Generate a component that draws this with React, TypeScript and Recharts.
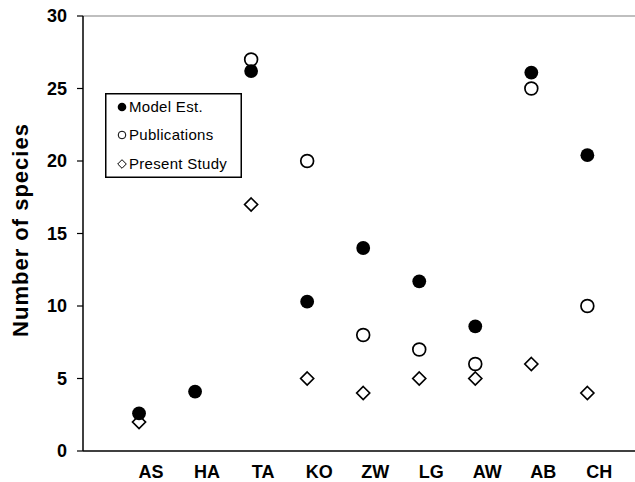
import React from 'react';
import { ScatterChart, Scatter, XAxis, YAxis, ReferenceLine, Legend, Label } from 'recharts';

const categories = ['AS', 'HA', 'TA', 'KO', 'ZW', 'LG', 'AW', 'AB', 'CH'];
const modelEst = [2.6, 4.1, 26.2, 10.3, 14.0, 11.7, 8.6, 26.1, 20.4];
const publications: (number | null)[] = [null, null, 27, 20, 8, 7, 6, 25, 10];
const presentStudy: (number | null)[] = [2, null, 17, 5, 4, 5, 5, 6, 4];
const yTicks = [0, 5, 10, 15, 20, 25, 30];
const xTicks = categories.map((_, i) => i + 1);

const toPoints = (vals: (number | null)[]) =>
  vals
    .map((v, i) => (v === null ? null : { x: i + 1, y: v }))
    .filter((p) => p !== null) as { x: number; y: number }[];

const modelData = toPoints(modelEst);
const pubData = toPoints(publications);
const presentData = toPoints(presentStudy);

const FONT = '"Liberation Sans", Arial, sans-serif';

const FilledCircle = (p: any) => <circle cx={p.cx} cy={p.cy} r={6.9} fill="#000" />;
const OpenCircle = (p: any) => (
  <circle cx={p.cx} cy={p.cy} r={6.4} fill="#fff" stroke="#000" strokeWidth={1.7} />
);
const Diamond = (p: any) => {
  const s = 6.5;
  return (
    <path
      d={`M${p.cx},${p.cy - s} L${p.cx + s},${p.cy} L${p.cx},${p.cy + s} L${p.cx - s},${p.cy} Z`}
      fill="#fff"
      stroke="#000"
      strokeWidth={1.7}
    />
  );
};

const XTick = (props: any) => {
  const { x, payload } = props;
  return (
    <text
      x={x + 12}
      y={478}
      textAnchor="middle"
      fontFamily={FONT}
      fontWeight="bold"
      fontSize={18}
      fill="#000"
    >
      {categories[payload.value - 1]}
    </text>
  );
};

const YLabel = () => {
  const cx = 20;
  const cy = 230;
  return (
    <text
      x={cx}
      y={cy}
      transform={`rotate(-90 ${cx} ${cy})`}
      textAnchor="middle"
      dominantBaseline="central"
      fontFamily={FONT}
      fontWeight="bold"
      fontSize={22}
      letterSpacing={1}
      fill="#000"
    >
      Number of species
    </text>
  );
};

const legendItems = [
  { label: 'Model Est.', kind: 'filled' },
  { label: 'Publications', kind: 'open' },
  { label: 'Present Study', kind: 'diamond' },
];

const LegendBox = () => {
  const rows = [14, 42, 71];
  return (
    <svg width={137} height={85} style={{ display: 'block' }}>
      <rect x={0.75} y={0.75} width={135.5} height={83.5} fill="#fff" stroke="#000" strokeWidth={1.5} />
      {legendItems.map((it, i) => {
        const cy = rows[i];
        const cx = 17;
        let sym;
        if (it.kind === 'filled') sym = <circle cx={cx} cy={cy} r={4.3} fill="#000" />;
        else if (it.kind === 'open')
          sym = <circle cx={cx} cy={cy} r={3.8} fill="#fff" stroke="#000" strokeWidth={1} />;
        else
          sym = (
            <path
              d={`M${cx},${cy - 4.3} L${cx + 4.3},${cy} L${cx},${cy + 4.3} L${cx - 4.3},${cy} Z`}
              fill="#fff"
              stroke="#000"
              strokeWidth={1}
            />
          );
        return (
          <g key={it.label}>
            {sym}
            <text x={24} y={cy + 5} fontFamily={FONT} fontSize={15} letterSpacing={0.3} fill="#000">
              {it.label}
            </text>
          </g>
        );
      })}
    </svg>
  );
};

export default function App() {
  return (
    <div style={{ position: 'absolute', left: 0, top: 0, width: 635, height: 482, background: '#fff' }}>
      <ScatterChart width={635} height={482} margin={{ top: 16, right: 0, bottom: 0, left: 0 }}>
        <XAxis
          type="number"
          dataKey="x"
          domain={[0, 9.85]}
          ticks={xTicks}
          allowDataOverflow
          height={31}
          tickLine={false}
          tickSize={0}
          axisLine={{ stroke: '#000', strokeWidth: 1.5 }}
          tick={<XTick />}
          interval={0}
        />
        <YAxis
          type="number"
          dataKey="y"
          domain={[0, 30]}
          ticks={yTicks}
          width={83}
          tickSize={6}
          tickMargin={10}
          axisLine={{ stroke: '#000', strokeWidth: 1.5 }}
          tickLine={{ stroke: '#000', strokeWidth: 1.2 }}
          tick={{ fill: '#000', fontFamily: FONT, fontWeight: 'bold', fontSize: 18 }}
        >
          <Label content={<YLabel />} />
        </YAxis>
        <ReferenceLine y={30} stroke="#808080" strokeWidth={1.2} />
        <Legend
          layout="vertical"
          align="center"
          verticalAlign="middle"
          content={() => <LegendBox />}
          wrapperStyle={{ left: 105, top: 93, width: 137, height: 85 }}
        />
        <Scatter name="Present Study" data={presentData} shape={Diamond} isAnimationActive={false} />
        <Scatter name="Publications" data={pubData} shape={OpenCircle} isAnimationActive={false} />
        <Scatter name="Model Est." data={modelData} shape={FilledCircle} isAnimationActive={false} />
      </ScatterChart>
    </div>
  );
}
